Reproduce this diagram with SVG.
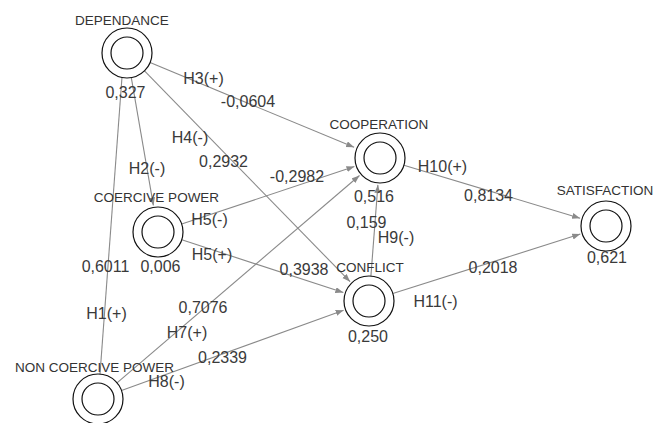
<svg xmlns="http://www.w3.org/2000/svg" width="656" height="423" viewBox="0 0 656 423">
<style>
.bg{fill:#ffffff}
.ring{fill:none;stroke:#111;stroke-width:1.2}
.edge{stroke:#8a8a8a;stroke-width:1.1;fill:none}
.name{font-family:"Liberation Sans",Arial,sans-serif;font-size:13.5px;fill:#333;text-anchor:middle}
.lbl{font-family:"Liberation Sans",Arial,sans-serif;font-size:16px;fill:#3a3a3a;text-anchor:middle}
</style>
<defs>
<marker id="arr" markerUnits="userSpaceOnUse" markerWidth="9" markerHeight="7" refX="8" refY="3" orient="auto">
<path d="M0,0 L8,3 L0,6 z" fill="#8a8a8a"/>
</marker>
</defs>
<rect class="bg" x="0" y="0" width="656" height="423"/>
<g id="connectors">
<line class="edge" x1="150.1" y1="62.6" x2="354.1" y2="147.3" marker-end="url(#arr)"/>
<line class="edge" x1="131.3" y1="77.6" x2="153.4" y2="205.4" marker-end="url(#arr)"/>
<line class="edge" x1="144.5" y1="70.9" x2="350.1" y2="281.7" marker-end="url(#arr)"/>
<line class="edge" x1="181.7" y1="224.1" x2="354.4" y2="166.5" marker-end="url(#arr)"/>
<line class="edge" x1="181.8" y1="239.8" x2="343.3" y2="292.6" marker-end="url(#arr)"/>
<line class="edge" x1="117.0" y1="382.8" x2="359.5" y2="175.5" marker-end="url(#arr)"/>
<line class="edge" x1="121.5" y1="390.5" x2="343.6" y2="310.2" marker-end="url(#arr)"/>
<line class="edge" x1="100" y1="374" x2="122" y2="77"/>
<line class="edge" x1="370.9" y1="276.1" x2="377.9" y2="184.9" marker-end="url(#arr)"/>
<line class="edge" x1="403.9" y1="165.2" x2="580.1" y2="218.2" marker-end="url(#arr)"/>
<line class="edge" x1="392.8" y1="293.5" x2="580.3" y2="234.1" marker-end="url(#arr)"/>
<text class="lbl" x="203.5" y="84">H3(+)</text>
<text class="lbl" x="248" y="107">-0,0604</text>
<text class="lbl" x="190" y="143">H4(-)</text>
<text class="lbl" x="223.5" y="167">0,2932</text>
<text class="lbl" x="147" y="174">H2(-)</text>
<text class="lbl" x="297" y="182">-0,2982</text>
<text class="lbl" x="209.5" y="225">H5(-)</text>
<text class="lbl" x="212" y="260">H5(+)</text>
<text class="lbl" x="304" y="275">0,3938</text>
<text class="lbl" x="105.5" y="272">0,6011</text>
<text class="lbl" x="106.5" y="319">H1(+)</text>
<text class="lbl" x="203" y="313">0,7076</text>
<text class="lbl" x="187" y="338">H7(+)</text>
<text class="lbl" x="222.5" y="363">0,2339</text>
<text class="lbl" x="166.5" y="387">H8(-)</text>
<text class="lbl" x="366.5" y="228">0,159</text>
<text class="lbl" x="396" y="243">H9(-)</text>
<text class="lbl" x="442.5" y="172">H10(+)</text>
<text class="lbl" x="488.5" y="201">0,8134</text>
<text class="lbl" x="493" y="273">0,2018</text>
<text class="lbl" x="435.5" y="307">H11(-)</text>
</g>
<g id="dependance">
<circle class="ring" cx="127" cy="53" r="25"/>
<circle class="ring" cx="127" cy="53" r="16"/>
<text class="name" x="122" y="25">DEPENDANCE</text>
<text class="lbl" x="125.5" y="98">0,327</text>
</g>
<g id="coercive-power">
<circle class="ring" cx="158" cy="232" r="25"/>
<circle class="ring" cx="158" cy="232" r="16"/>
<text class="name" x="156.5" y="202">COERCIVE POWER</text>
<text class="lbl" x="160.5" y="272">0,006</text>
</g>
<g id="non-coercive-power">
<circle class="ring" cx="98" cy="399" r="25"/>
<circle class="ring" cx="98" cy="399" r="16"/>
<text class="name" x="94.5" y="372">NON COERCIVE POWER</text>
</g>
<g id="cooperation">
<circle class="ring" cx="380" cy="158" r="25"/>
<circle class="ring" cx="380" cy="158" r="16"/>
<text class="name" x="379" y="129">COOPERATION</text>
<text class="lbl" x="374" y="202">0,516</text>
</g>
<g id="conflict">
<circle class="ring" cx="369" cy="301" r="25"/>
<circle class="ring" cx="369" cy="301" r="16"/>
<text class="name" x="370" y="272">CONFLICT</text>
<text class="lbl" x="368" y="342">0,250</text>
</g>
<g id="satisfaction">
<circle class="ring" cx="606" cy="226" r="25"/>
<circle class="ring" cx="606" cy="226" r="16"/>
<text class="name" x="605" y="195">SATISFACTION</text>
<text class="lbl" x="607" y="263">0,621</text>
</g>
</svg>
